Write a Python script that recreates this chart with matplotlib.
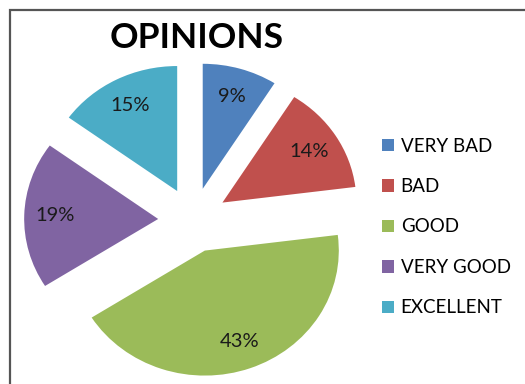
import matplotlib
matplotlib.use("Agg")
import matplotlib.pyplot as plt
from matplotlib.patches import Rectangle

categories = ["VERY BAD", "BAD", "GOOD", "VERY GOOD", "EXCELLENT"]
shares = [9, 14, 43, 19, 15]
colors = ["#4F81BD", "#C0504D", "#9BBB59", "#8064A2", "#4BACC6"]
title = "OPINIONS"

W, H = 525, 384
DPI = 100
fig = plt.figure(figsize=(W / DPI, H / DPI), dpi=DPI)
fig.patch.set_facecolor("white")

ax = fig.add_axes([0, 0, 1, 1])
wedges, texts, autotexts = ax.pie(
    shares,
    colors=colors,
    startangle=90,
    counterclock=False,
    explode=[0.26] * len(shares),
    autopct="%1.0f%%",
    pctdistance=0.77,
    wedgeprops=dict(linewidth=0),
    textprops=dict(fontsize=14.5, color="#1a1a1a", family=["Lato", "DejaVu Sans"]),
)

# slightly wider than tall, centred left of the legend
rx, ry = 134.0, 125.0
cx, cy = 193.0, 220.0
ax.set_aspect("auto")
ax.set_xlim(-cx / rx, (W - cx) / rx)
ax.set_ylim(-(H - cy) / ry, cy / ry)
ax.axis("off")

fig.text(197 / W, 1 - 38 / H, title, ha="center", va="center",
         fontsize=25.5, fontweight="bold", family=["Lato", "DejaVu Sans"])

fig.legend(
    wedges, categories,
    loc="center left",
    bbox_to_anchor=(382 / W, 1 - 227 / H),
    frameon=False,
    prop=dict(family=["Lato", "DejaVu Sans"], size=13.5),
    handlelength=0.65,
    handleheight=0.65,
    handletextpad=0.35,
    labelspacing=1.25,
    borderpad=0,
    borderaxespad=0,
)

# outer frame line along the top and left edges
fig.patches.append(Rectangle((9.5 / W, -0.1), 1.2, (H - 9.5) / H + 0.1,
                             transform=fig.transFigure, fill=False,
                             edgecolor="#555555", linewidth=1.6))

fig.savefig("out.png", dpi=DPI, facecolor="white")
